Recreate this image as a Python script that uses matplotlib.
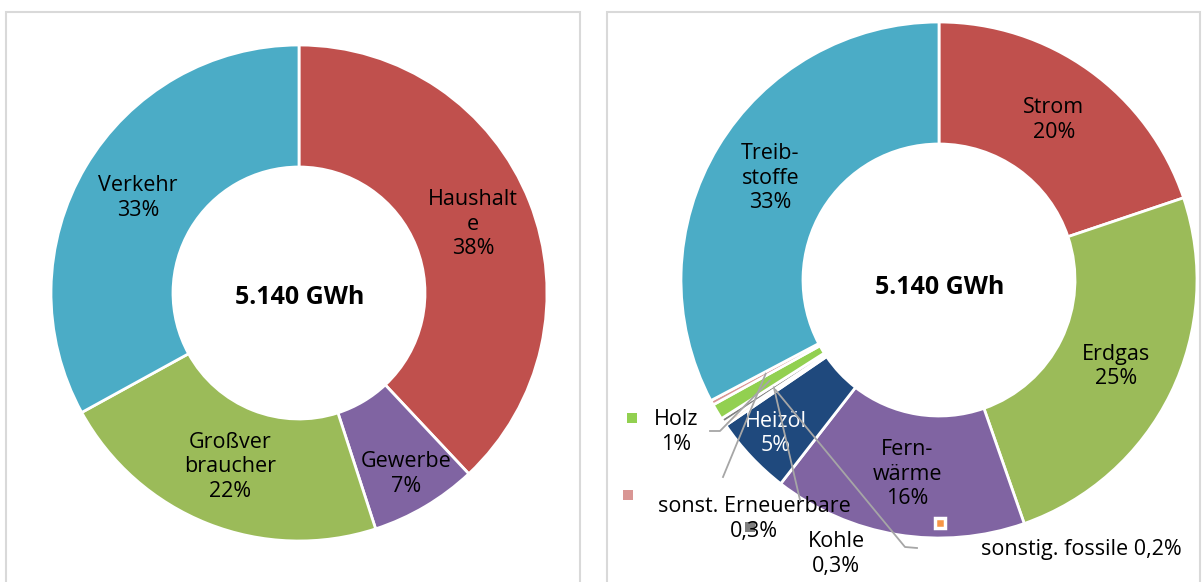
import matplotlib.pyplot as plt
from matplotlib.patches import Rectangle
import numpy as np

plt.rcParams['font.family'] = ['Open Sans', 'DejaVu Sans']

W, H = 1203, 582

total_label = '5.140 GWh'

# left chart: consumption by sector
sec_names = ['Haushalt\ne', 'Gewerbe', 'Großver\nbraucher', 'Verkehr']
sec_pct = [38, 7, 22, 33]
sec_colors = ['#C0504D', '#8064A2', '#9BBB59', '#4BACC6']

# right chart: consumption by energy carrier
src_names = ['Strom', 'Erdgas', 'Fern-\nwärme', 'Heizöl', 'sonstig. fossile',
             'Kohle', 'Holz', 'sonst. Erneuerbare', 'Treib-\nstoffe']
src_pct = [20, 25, 16, 5, 0.2, 0.3, 1, 0.3, 33]
src_colors = ['#C0504D', '#9BBB59', '#8064A2', '#1F497D', '#F79646',
              '#7F7F7F', '#92D050', '#D99694', '#4BACC6']
src_outside = [False, False, False, False, True, True, True, True, False]

FS = 15.5
LS = 1.22


def pct_txt(p):
    return f"{p:g}%".replace('.', ',')


def donut(ax, vals, names, colors, cx, cy, R, w, ty, outside=None):
    if outside is None:
        outside = [False] * len(vals)
    labels = ['' if o else f"{n}\n{pct_txt(v)}"
              for n, v, o in zip(names, vals, outside)]
    wedges, texts = ax.pie(
        vals, colors=colors, startangle=90, counterclock=False,
        radius=R, center=(cx, H - cy), labels=labels,
        labeldistance=(R - w / 2) / R,
        wedgeprops=dict(width=w, edgecolor='white', linewidth=2),
        textprops=dict(fontsize=FS, ha='center', va='center',
                       multialignment='center', linespacing=LS),
    )
    # total in the hole
    ax.text(cx + 1, H - ty, total_label, fontsize=18, fontweight='bold',
            ha='center', va='center')
    return wedges, texts


def move_label(t, wedge, cx, cy, r):
    a = np.deg2rad((wedge.theta1 + wedge.theta2) / 2)
    t.set_position((cx + r * np.cos(a), H - cy + r * np.sin(a)))


fig = plt.figure(figsize=(W / 100, H / 100), dpi=100)
ax = fig.add_axes([0, 0, 1, 1])

# frames around both charts
ax.add_patch(Rectangle((6, -5), 574, H - 12 + 5, fill=False,
                       edgecolor='#D9D9D9', lw=1.5))
ax.add_patch(Rectangle((607, -5), 593, H - 12 + 5, fill=False,
                       edgecolor='#D9D9D9', lw=1.5))

cx1, cy1 = 299, 293
w1_wedges, w1_texts = donut(ax, sec_pct, sec_names, sec_colors,
                            cx1, cy1, 248, 122, ty=297)
# Gewerbe label is pushed outwards like in the original
gew = sec_names.index('Gewerbe')
move_label(w1_texts[gew], w1_wedges[gew], cx1, cy1, 210)

cx2, cy2, R2, w2 = 939, 280, 258, 122
wedges, texts = donut(ax, src_pct, src_names, src_colors, cx2, cy2, R2, w2,
                      ty=287, outside=src_outside)

# Heizöl label sits a bit further out, in white
heiz = src_names.index('Heizöl')
texts[heiz].set_color('white')
move_label(texts[heiz], wedges[heiz], cx2, cy2, 224)

# outside labels: text centre, legend key, leader line start (+ elbow)
outside_layout = {
    'Holz': dict(text=(676, 432), key=(632, 418), line=[(710, 431), (720, 431)]),
    'sonst. Erneuerbare': dict(text=(754, 519), key=(628, 495), line=[(723, 477)]),
    'Kohle': dict(text=(836, 554), key=(750, 527), line=[(800, 500)]),
    'sonstig. fossile': dict(text=(1081, 549), key=(940, 523),
                             line=[(917, 548), (905, 547)]),
}

for i, name in enumerate(src_names):
    if not src_outside[i]:
        continue
    lay = outside_layout[name]
    if name == 'sonstig. fossile':
        s = f"{name} {pct_txt(src_pct[i])}"
    else:
        s = f"{name}\n{pct_txt(src_pct[i])}"
    tx, ty = lay['text']
    ax.text(tx, H - ty, s, fontsize=FS, ha='center', va='center',
            multialignment='center', linespacing=LS)
    kx, ky = lay['key']
    ax.plot([kx], [H - ky], marker='s', color=src_colors[i], markersize=6.5,
            markeredgecolor='white',
            markeredgewidth=2.5 if name == 'sonstig. fossile' else 0)
    # leader line towards the middle of the ring of that slice
    a = np.deg2rad((wedges[i].theta1 + wedges[i].theta2) / 2)
    r = R2 - w2 / 2
    xs = [p[0] for p in lay['line']] + [cx2 + r * np.cos(a)]
    ys = [H - p[1] for p in lay['line']] + [H - cy2 + r * np.sin(a)]
    ax.plot(xs, ys, color='#A6A6A6', lw=1.3, zorder=3)

ax.set_aspect('auto')
ax.set_xlim(0, W)
ax.set_ylim(0, H)
ax.axis('off')

plt.savefig('out.png', dpi=100, facecolor='white')
